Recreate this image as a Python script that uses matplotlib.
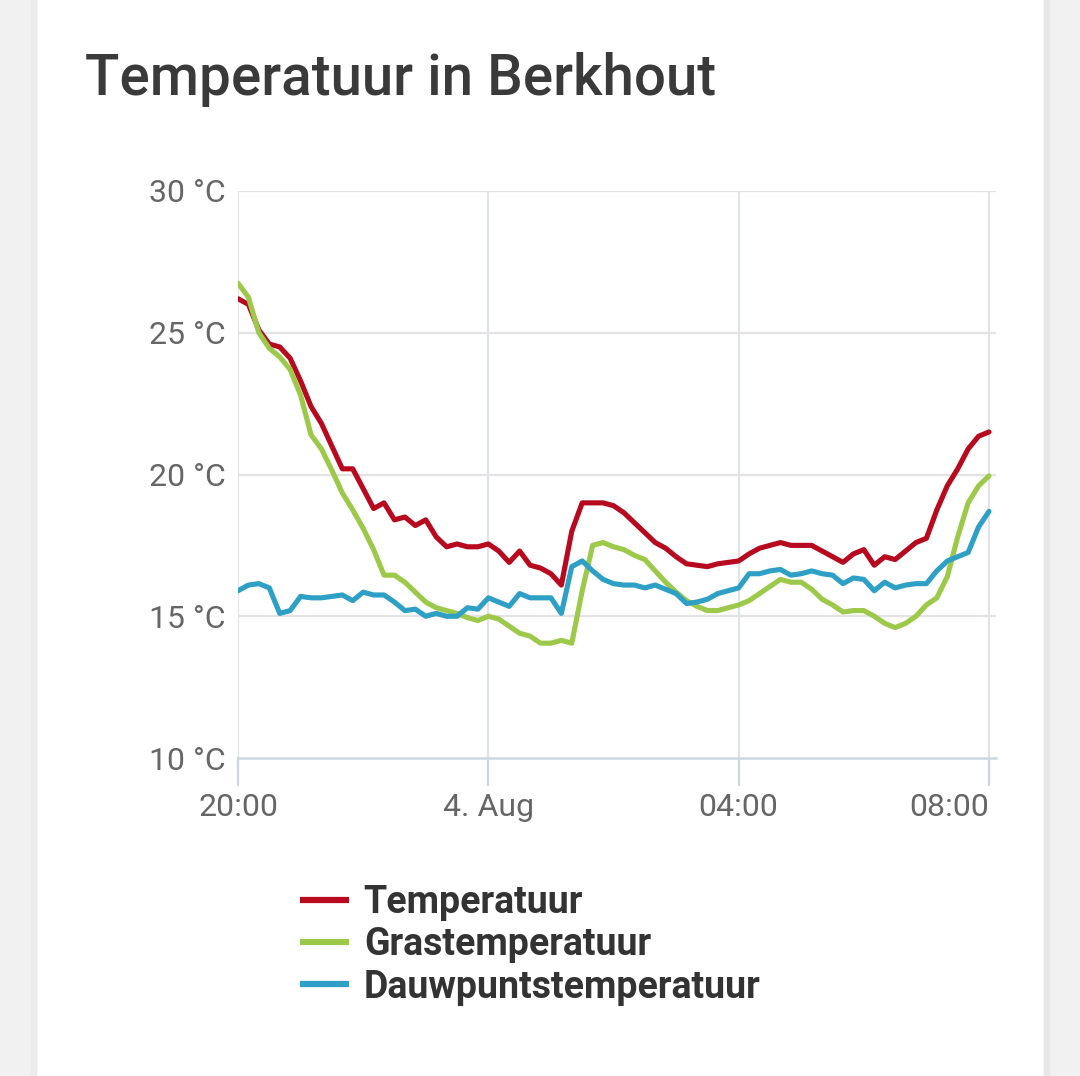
import numpy as np
import matplotlib
matplotlib.use('Agg')
from matplotlib import pyplot as plt
from matplotlib.patches import Rectangle

# 10-minute readings, 20:00 (3 Aug) .. 08:00 (4 Aug)
hours = np.arange(73) / 6.0

temperatuur = [26.2, 26.0, 25.1, 24.6, 24.5, 24.1, 23.3, 22.4, 21.8, 21.0,
               20.2, 20.2, 19.5, 18.8, 19.0, 18.4, 18.5, 18.2, 18.4, 17.8,
               17.45, 17.55, 17.45, 17.45, 17.55, 17.3, 16.9, 17.3, 16.8, 16.7,
               16.5, 16.1, 18.0, 19.0, 19.0, 19.0, 18.9, 18.65, 18.3, 17.95,
               17.6, 17.4, 17.1, 16.85, 16.8, 16.75, 16.85, 16.9, 16.95, 17.2,
               17.4, 17.5, 17.6, 17.5, 17.5, 17.5, 17.3, 17.1, 16.9, 17.2,
               17.35, 16.8, 17.1, 17.0, 17.3, 17.6, 17.75, 18.75, 19.6, 20.2,
               20.9, 21.35, 21.5]

grastemperatuur = [26.75, 26.25, 25.0, 24.45, 24.15, 23.7, 22.8, 21.4, 20.9, 20.15,
                   19.35, 18.75, 18.1, 17.35, 16.45, 16.45, 16.2, 15.85, 15.5, 15.3,
                   15.2, 15.1, 14.95, 14.85, 15.0, 14.9, 14.65, 14.4, 14.3, 14.05,
                   14.05, 14.15, 14.05, 15.9, 17.5, 17.6, 17.45, 17.35, 17.15, 17.0,
                   16.6, 16.2, 15.85, 15.55, 15.35, 15.2, 15.2, 15.3, 15.4, 15.55,
                   15.8, 16.05, 16.3, 16.2, 16.2, 15.95, 15.6, 15.4, 15.15, 15.2,
                   15.2, 15.0, 14.75, 14.6, 14.75, 15.0, 15.4, 15.65, 16.4, 17.8,
                   19.0, 19.6, 19.95]

dauwpunt = [15.9, 16.1, 16.15, 16.0, 15.1, 15.2, 15.7, 15.65, 15.65, 15.7,
            15.75, 15.55, 15.85, 15.75, 15.75, 15.5, 15.2, 15.25, 15.0, 15.1,
            15.0, 15.0, 15.3, 15.25, 15.65, 15.5, 15.35, 15.8, 15.65, 15.65,
            15.65, 15.1, 16.75, 16.95, 16.6, 16.3, 16.15, 16.1, 16.1, 16.0,
            16.1, 15.95, 15.8, 15.45, 15.5, 15.6, 15.8, 15.9, 16.0, 16.5,
            16.5, 16.6, 16.65, 16.45, 16.5, 16.6, 16.5, 16.45, 16.15, 16.35,
            16.3, 15.9, 16.2, 16.0, 16.1, 16.15, 16.15, 16.6, 16.95, 17.1,
            17.25, 18.15, 18.7]

series_names = ['Temperatuur', 'Grastemperatuur', 'Dauwpuntstemperatuur']
series_colors = ['#b80a1e', '#9cc94a', '#2ea0c6']

x_ticks = [0, 4, 8, 12]
x_labels = ['20:00', '4. Aug', '04:00', '08:00']
y_ticks = [10, 15, 20, 25, 30]

plt.rcParams['font.family'] = ['Roboto', 'DejaVu Sans']

W, H = 1080, 1076
fig = plt.figure(figsize=(W / 100, H / 100), dpi=100, facecolor='white')

# page background and card shadow
fig.patches.append(Rectangle((0, 0), 36 / W, 1, transform=fig.transFigure, color='#f1f1f1', zorder=-10))
fig.patches.append(Rectangle((1044 / W, 0), 36 / W, 1, transform=fig.transFigure, color='#f1f1f1', zorder=-10))
fig.patches.append(Rectangle((31 / W, 0), 5 / W, 1, transform=fig.transFigure, color='#eaeaea', zorder=-9))
fig.patches.append(Rectangle((1044 / W, 0), 5 / W, 1, transform=fig.transFigure, color='#e7e7e7', zorder=-9))

fig.text(85 / W, 1 - 95 / H, 'Temperatuur in Berkhout', fontsize=40.7, color='#3a3a3a',
         ha='left', va='baseline', fontweight='medium')

ax = fig.add_axes([238 / W, 1 - 758 / H, (996 - 238) / W, (758 - 191) / H])
ax.set_facecolor('white')

lines = []
for vals, name, col in zip([temperatuur, grastemperatuur, dauwpunt], series_names, series_colors):
    ln, = ax.plot(hours, vals, color=col, lw=3.7, label=name, solid_joinstyle='round',
                  solid_capstyle='round', zorder=3)
    lines.append(ln)

ax.set_xlim(0, 12 + 7 / 62.6)
ax.set_ylim(10, 30)
ax.set_yticks(y_ticks)
ax.set_yticklabels([f'{v} °C' for v in y_ticks])
ax.set_xticks(x_ticks)
ax.set_xticklabels(x_labels)
ax.get_xticklabels()[-1].set_horizontalalignment('right')
ax.get_xticklabels()[-1].set_x(12 + 7 / 62.6)

for s in ax.spines.values():
    s.set_visible(False)

for v in y_ticks[1:]:
    ax.axhline(v, color='#e3e3e3', lw=1.6, zorder=1)
ax.axhline(10, color='#ccd6e2', lw=1.8, zorder=2, clip_on=False)
for t in x_ticks:
    ax.axvline(t, color='#e0e4e9', lw=1.6, zorder=1)
    ax.plot([t, t], [10, 10 - 27 / 28.35], color='#ccd6e2', lw=1.6, clip_on=False, zorder=2)

ax.tick_params(axis='both', length=0, labelsize=23, labelcolor='#666666')
ax.tick_params(axis='y', pad=9)
ax.tick_params(axis='x', pad=25)

leg = fig.legend(handles=lines, loc='upper left', bbox_to_anchor=(300 / W, 1 - 884 / H),
                 frameon=False, prop={'size': 27, 'weight': 'bold'}, labelcolor='#333333',
                 handlelength=1.3, handletextpad=0.4, labelspacing=0.14,
                 borderpad=0, borderaxespad=0)
for h in leg.legend_handles:
    h.set_linewidth(4.5)
    h.set_solid_capstyle('butt')

fig.savefig('out.png', dpi=100, facecolor='white')
